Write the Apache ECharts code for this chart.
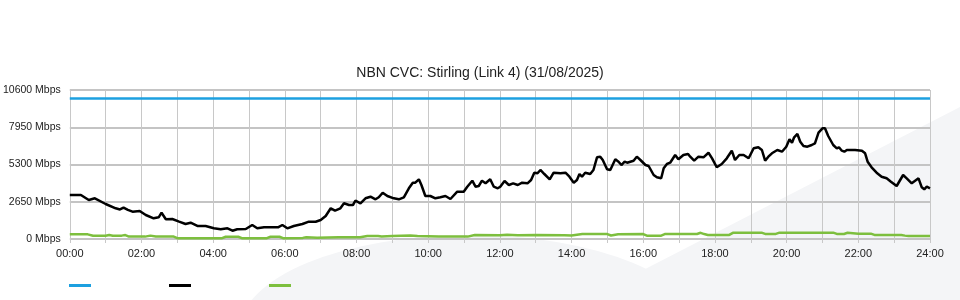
<!DOCTYPE html>
<html>
<head>
<meta charset="utf-8">
<script src="https://cdn.jsdelivr.net/npm/echarts@6/dist/echarts.min.js"></script>
<style>
  html, body { margin: 0; padding: 0; background: #fff; }
  #chart { width: 960px; height: 300px; }
</style>
</head>
<body>
<div id="chart"></div>
<script>
// link capacity (Mbps)
const capTimes = [0, 24]
const capMbps = [10000, 10000]

// traffic in (black), hours of day / Mbps
const inTimes = [
  0, 0.31, 0.53, 0.70, 1.00, 1.28, 1.40, 1.50, 1.62, 1.75, 1.95, 2.12, 2.34, 2.48, 2.56, 2.68, 2.86,
  3.05, 3.23, 3.37, 3.56, 3.79, 4.02, 4.21, 4.40, 4.54, 4.67, 4.91, 5.09, 5.23, 5.42, 5.81, 5.93,
  6.07, 6.25, 6.49, 6.67, 6.86, 7.00, 7.14, 7.28, 7.40, 7.55, 7.65, 7.79, 7.90, 7.97, 8.11, 8.25,
  8.39, 8.53, 8.62, 8.73, 8.86, 9.04, 9.18, 9.32, 9.46, 9.57, 9.64, 9.74, 9.81, 9.92, 10.06, 10.20,
  10.34, 10.48, 10.62, 10.81, 10.99, 11.09, 11.23, 11.32, 11.41, 11.50, 11.60, 11.73, 11.83, 11.94,
  12.01, 12.13, 12.25, 12.37, 12.50, 12.62, 12.77, 12.87, 12.96, 13.05, 13.13, 13.24, 13.39, 13.50,
  13.69, 13.83, 13.94, 14.06, 14.15, 14.22, 14.29, 14.38, 14.52, 14.61, 14.71, 14.80, 14.87, 14.99,
  15.08, 15.22, 15.31, 15.39, 15.48, 15.55, 15.64, 15.73, 15.82, 15.92, 16.06, 16.15, 16.29, 16.38,
  16.50, 16.57, 16.66, 16.75, 16.89, 16.98, 17.12, 17.25, 17.31, 17.42, 17.54, 17.68, 17.82, 17.92,
  18.05, 18.19, 18.33, 18.47, 18.56, 18.68, 18.80, 18.94, 19.08, 19.21, 19.31, 19.40, 19.49, 19.59,
  19.63, 19.74, 19.87, 19.99, 20.08, 20.15, 20.21, 20.30, 20.38, 20.47, 20.58, 20.70, 20.79, 20.89,
  21.00, 21.07, 21.16, 21.30, 21.40, 21.46, 21.54, 21.61, 21.68, 21.91, 22.10, 22.19, 22.26, 22.37,
  22.51, 22.65, 22.79, 22.91, 23.07, 23.25, 23.35, 23.49, 23.68, 23.77, 23.84, 23.91, 24
]
const inMbps = [
  3130, 3130, 2775, 2895, 2490, 2184, 2100, 2230, 2070, 1942, 1992, 1707, 1473, 1544, 1871, 1401, 1423,
  1231, 1067, 1160, 925, 925, 761, 690, 761, 590, 690, 711, 996, 761, 832, 832, 996,
  761, 925, 1067, 1231, 1231, 1352, 1636, 2184, 2013, 2184, 2540, 2419, 2419, 2725, 2540, 2895,
  3009, 2824, 2967, 3294, 3059, 2895, 2824, 2967, 3607, 4005, 4005, 4247, 3842, 3059, 3059, 2895,
  2967, 3059, 2846, 3365, 3365, 3721, 4147, 3721, 3770, 4147, 3962, 4247, 3721, 3607,
  3721, 4126, 3842, 3962, 3842, 4005, 3962, 4197, 4717, 4674, 4909, 4624, 4247, 4717,
  4674, 4717, 4432, 4005, 4197, 4624, 4432, 4717, 4624, 4909, 5812, 5855, 5620, 4958,
  4909, 5670, 5499, 5264, 5499, 5428, 5499, 5570, 5855, 5620, 5264, 5193, 4553, 4389,
  4318, 5030, 5336, 5428, 5976, 5670, 5976, 6047, 5855, 5570, 5855, 5812, 6139, 5741,
  5101, 5336, 5741, 6282, 5620, 5976, 5976, 5741, 6452, 6524, 6331, 5570, 5855, 6097,
  5976, 6331, 6211, 6566, 7093, 6851, 7235, 7470, 6922, 6616, 6566, 6687, 6808, 7562,
  7875, 7875, 7327, 6687, 6452, 6524, 6282, 6211, 6331, 6331, 6282, 6097, 5499, 5101,
  4717, 4432, 4318, 4076, 3770, 4553, 4318, 3962, 4318, 3678, 3536, 3721, 3607
]

// traffic out (green)
const outTimes = [
  0, 0.5, 0.65, 1.0, 1.1, 1.2, 1.45, 1.55, 1.65, 2.1, 2.25, 2.4, 2.9, 3.0, 3.5, 4.25, 4.35, 4.7, 4.8,
  5.5, 5.6, 5.85, 5.95, 6.5, 6.6, 6.9, 7.5, 8.1, 8.3, 8.6, 8.7, 9.0, 9.5, 9.7, 10.3, 11.1, 11.3,
  12.0, 12.2, 12.5, 13.0, 13.8, 14.0, 14.3, 15.0, 15.1, 15.3, 16.0, 16.1, 16.5, 16.6, 17.5, 17.6,
  17.7, 17.8, 18.4, 18.5, 19.3, 19.4, 19.7, 19.8, 21.3, 21.4, 21.6, 21.7, 22.0, 22.35, 22.45, 23.2,
  23.3, 23.4, 24
]
const outMbps = [
  330, 330, 230, 230, 280, 230, 240, 280, 170, 170, 240, 180, 170, 60, 60, 60, 160, 160, 60,
  60, 160, 160, 60, 80, 130, 90, 120, 120, 220, 220, 180, 220, 250, 210, 170, 170, 280,
  270, 300, 260, 280, 260, 250, 350, 350, 250, 340, 350, 240, 240, 350, 360, 440,
  350, 290, 290, 440, 450, 360, 360, 450, 450, 360, 360, 440, 380, 380, 290, 280,
  240, 210, 210
]

const yTicks = [0, 2650, 5300, 7950, 10600]
const chartTitle = 'NBN CVC: Stirling (Link 4) (31/08/2025)'

const zip = (ts, vs) => ts.map((t, i) => [t, vs[i]])
const font = '"Liberation Sans", Arial, sans-serif'

const myChart = echarts.init(document.getElementById('chart'))
myChart.setOption({
  animation: false,
  backgroundColor: '#fff',
  textStyle: { fontFamily: font },
  // faint watermark in the background
  graphic: [
    {
      type: 'circle', z: -10, silent: true,
      x: 470, y: 330, scaleX: 1, scaleY: 95 / 230,
      shape: { cx: 0, cy: 0, r: 230 },
      style: { fill: '#f4f5f7' }
    },
    {
      type: 'polygon', z: -10, silent: true,
      shape: { points: [[585, 300], [960, 107], [960, 300]] },
      style: { fill: '#f4f5f7' }
    }
  ],
  title: {
    text: chartTitle,
    left: 'center',
    top: 61,
    textStyle: { fontSize: 14, fontWeight: 'normal', color: '#222', fontFamily: font }
  },
  legend: {
    left: 64,
    top: 279,
    icon: 'rect',
    itemWidth: 22,
    itemHeight: 3,
    itemGap: 78,
    formatter: () => '',
    data: ['Capacity', 'In', 'Out']
  },
  grid: { left: 69, right: 30, top: 90, bottom: 61, containLabel: false },
  xAxis: {
    type: 'value',
    min: 0,
    max: 24,
    interval: 1,
    axisLine: { show: false },
    axisTick: { show: true, length: 4, lineStyle: { color: '#c8c8c8' } },
    splitLine: { show: true, lineStyle: { color: '#c8c8c8', width: 1 } },
    axisLabel: {
      margin: 9,
      fontSize: 11,
      color: '#222',
      fontFamily: font,
      showMinLabel: true,
      showMaxLabel: true,
      formatter: v => v % 2 === 0 ? (v < 10 ? '0' : '') + v + ':00' : ''
    }
  },
  yAxis: {
    type: 'value',
    min: yTicks[0],
    max: yTicks[yTicks.length - 1],
    interval: yTicks[1] - yTicks[0],
    axisLine: { show: false },
    axisTick: { show: false },
    splitLine: { show: true, lineStyle: { color: '#c4c4c4', width: 2 } },
    axisLabel: {
      margin: 9,
      fontSize: 10.5,
      color: '#222',
      fontFamily: font,
      formatter: v => v + ' Mbps'
    }
  },
  series: [
    {
      name: 'Capacity',
      type: 'line',
      symbol: 'none',
      color: '#1ca0e0',
      lineStyle: { width: 2.5, color: '#1ca0e0' },
      data: zip(capTimes, capMbps)
    },
    {
      name: 'In',
      type: 'line',
      symbol: 'none',
      color: '#000',
      lineStyle: { width: 2.5, color: '#000' },
      data: zip(inTimes, inMbps)
    },
    {
      name: 'Out',
      type: 'line',
      symbol: 'none',
      color: '#7dbf3e',
      lineStyle: { width: 2.5, color: '#7dbf3e' },
      data: zip(outTimes, outMbps)
    }
  ]
})
</script>
</body>
</html>
